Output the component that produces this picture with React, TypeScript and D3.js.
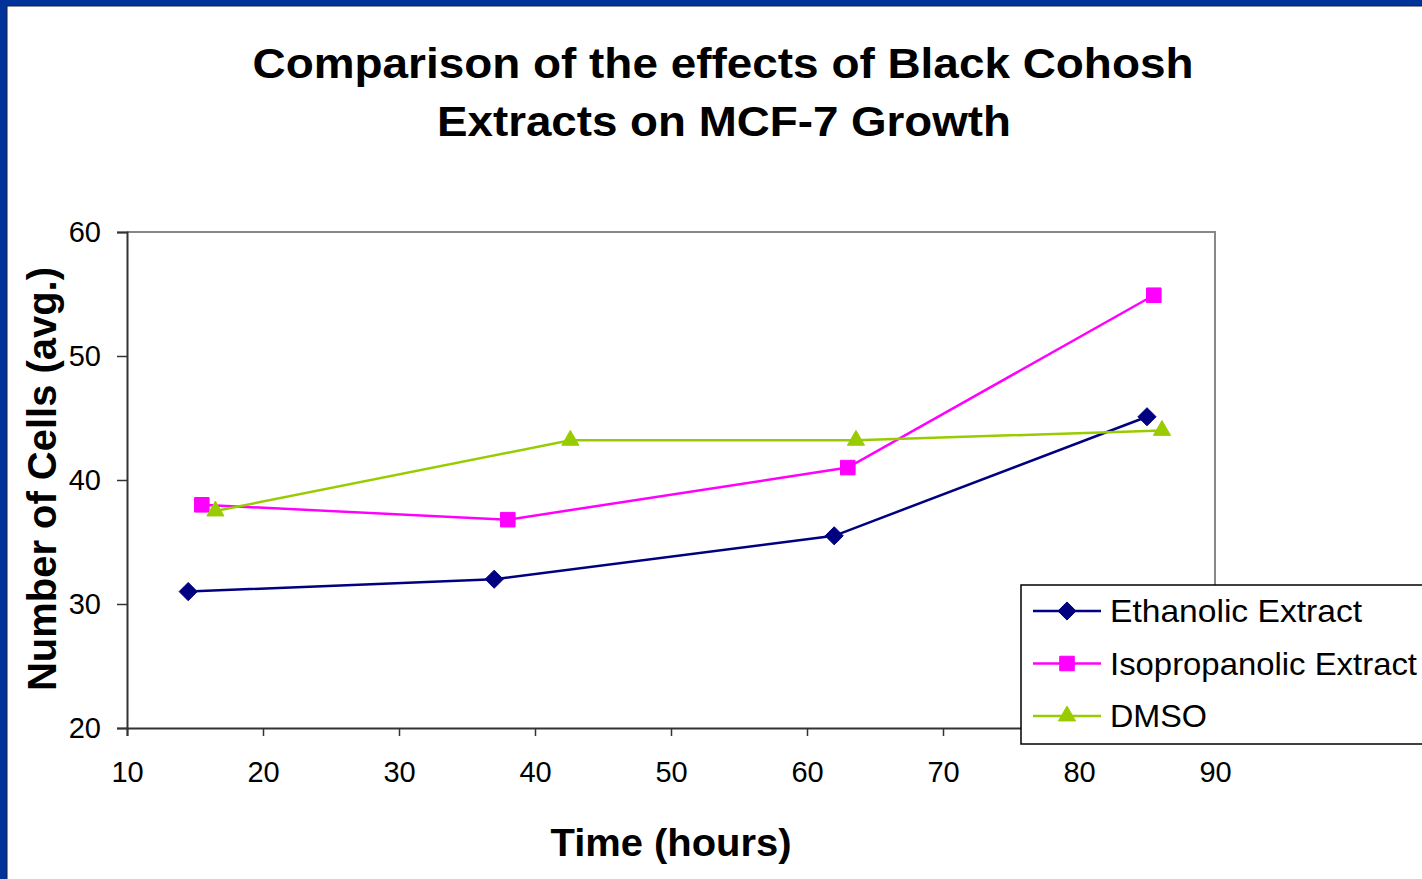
import { useEffect, useRef } from "react";
import * as d3 from "d3";

// chart data
const TIME_ETH = [14.5, 37, 62, 85];
const CELLS_ETH = [31, 32, 35.5, 45.1];
const TIME_ISO = [15.5, 38, 63, 85.5];
const CELLS_ISO = [38, 36.8, 41, 54.9];
const TIME_DMSO = [16.5, 42.6, 63.6, 86.1];
const CELLS_DMSO = [37.5, 43.2, 43.2, 44];

const SERIES_NAMES = ["Ethanolic Extract", "Isopropanolic Extract", "DMSO"];
const X_TICKS = [10, 20, 30, 40, 50, 60, 70, 80, 90];
const Y_TICKS = [20, 30, 40, 50, 60];

const W = 1422;
const H = 879;
const M = { left: 127, right: 207, top: 232, bottom: 151 };
const FONT = "'Liberation Sans', Arial, Helvetica, sans-serif";

type Pt = { x: number; y: number };

export default function App() {
  const ref = useRef<SVGSVGElement>(null);

  useEffect(() => {
    if (!ref.current) return;
    const svg = d3.select(ref.current);
    svg.selectAll("*").remove();

    // blue slide frame
    svg.append("rect").attr("width", W).attr("height", H).attr("fill", "#003399");
    svg.append("rect").attr("x", 7).attr("y", 6).attr("width", W).attr("height", H)
      .attr("fill", "#fff").attr("stroke", "#1a1a40").attr("stroke-width", 1);

    const x = d3.scaleLinear().domain([10, 90]).range([M.left, W - M.right]);
    const y = d3.scaleLinear().domain([20, 60]).range([H - M.bottom, M.top]);

    // title
    const title = svg.append("g").attr("font-family", FONT).attr("font-weight", "bold")
      .attr("font-size", 43).attr("text-anchor", "middle").attr("fill", "#000");
    title.append("text").attr("x", 723).attr("y", 78)
      .attr("textLength", 941).attr("lengthAdjust", "spacingAndGlyphs")
      .text("Comparison of the effects of Black Cohosh");
    title.append("text").attr("x", 724).attr("y", 136)
      .attr("textLength", 574).attr("lengthAdjust", "spacingAndGlyphs")
      .text("Extracts on MCF-7 Growth");

    // plot frame: grey top/right
    svg.append("path")
      .attr("d", `M${x(10)},${y(60)}H${x(90)}V${y(20)}`)
      .attr("fill", "none").attr("stroke", "#888").attr("stroke-width", 2);

    // axes
    const xAxis = svg.append("g").attr("transform", `translate(0,${y(20)})`)
      .call(d3.axisBottom(x).tickValues(X_TICKS).tickSize(8).tickPadding(20).tickFormat(d3.format("d")));
    const yAxis = svg.append("g").attr("transform", `translate(${x(10)},0)`)
      .call(d3.axisLeft(y).tickValues(Y_TICKS).tickSize(10).tickPadding(16).tickFormat(d3.format("d")));
    [xAxis, yAxis].forEach((a) => {
      a.select(".domain").attr("stroke", "#333").attr("stroke-width", 2);
      a.selectAll(".tick line").attr("stroke", "#333").attr("stroke-width", 1.5);
      a.selectAll(".tick text").attr("font-family", FONT).attr("font-size", 29).attr("fill", "#000");
    });
    xAxis.selectAll(".tick text").attr("dy", "0.9em");

    // axis titles
    svg.append("text").attr("x", 671).attr("y", 856)
      .attr("font-family", FONT).attr("font-weight", "bold").attr("font-size", 38)
      .attr("text-anchor", "middle").attr("textLength", 241).attr("lengthAdjust", "spacingAndGlyphs")
      .text("Time (hours)");
    svg.append("text").attr("transform", `translate(56,${(268 + 690) / 2}) rotate(-90)`)
      .attr("font-family", FONT).attr("font-weight", "bold").attr("font-size", 40)
      .attr("text-anchor", "middle").attr("textLength", 424).attr("lengthAdjust", "spacingAndGlyphs")
      .text("Number of Cells (avg.)");

    const series = [
      { pts: TIME_ETH.map((t, i) => ({ x: t, y: CELLS_ETH[i] })), color: "#000080", sym: d3.symbolDiamond2, size: 210 },
      { pts: TIME_ISO.map((t, i) => ({ x: t, y: CELLS_ISO[i] })), color: "#FF00FF", sym: d3.symbolSquare2, size: 270 },
      { pts: TIME_DMSO.map((t, i) => ({ x: t, y: CELLS_DMSO[i] })), color: "#99CC00", sym: d3.symbolTriangle2, size: 210 },
    ];

    const line = d3.line<Pt>().x((d) => x(d.x)).y((d) => y(d.y));
    const symPath = (s: d3.SymbolType, size: number) => d3.symbol(s, size)() as string;

    series.forEach((s) => {
      svg.append("path").datum(s.pts).attr("d", line)
        .attr("fill", "none").attr("stroke", s.color).attr("stroke-width", 2.5);
    });
    series.forEach((s) => {
      svg.append("g").selectAll("path").data(s.pts).join("path")
        .attr("transform", (d) => `translate(${x(d.x)},${y(d.y)})`)
        .attr("d", symPath(s.sym, s.size))
        .attr("fill", s.color).attr("stroke", s.color).attr("stroke-width", 1);
    });

    // legend
    const lg = svg.append("g").attr("transform", "translate(1021,585)");
    lg.append("rect").attr("width", 430).attr("height", 159)
      .attr("fill", "#fff").attr("stroke", "#000").attr("stroke-width", 1.5);
    const lens = [252, 307, 97];
    series.forEach((s, i) => {
      const yy = 26 + i * 52.5;
      lg.append("line").attr("x1", 12).attr("x2", 80).attr("y1", yy).attr("y2", yy)
        .attr("stroke", s.color).attr("stroke-width", 2.5);
      lg.append("path").attr("transform", `translate(46,${yy})`)
        .attr("d", symPath(s.sym, s.size)).attr("fill", s.color).attr("stroke", s.color);
      lg.append("text").attr("x", 89).attr("y", yy + 11)
        .attr("font-family", FONT).attr("font-size", 32).attr("fill", "#000")
        .attr("textLength", lens[i]).attr("lengthAdjust", "spacingAndGlyphs")
        .text(SERIES_NAMES[i]);
    });
  }, []);

  return (
    <div style={{ position: "absolute", left: 0, top: 0, width: W, height: H, overflow: "hidden" }}>
      <svg ref={ref} width={W} height={H} viewBox={`0 0 ${W} ${H}`} style={{ display: "block" }} />
    </div>
  );
}
